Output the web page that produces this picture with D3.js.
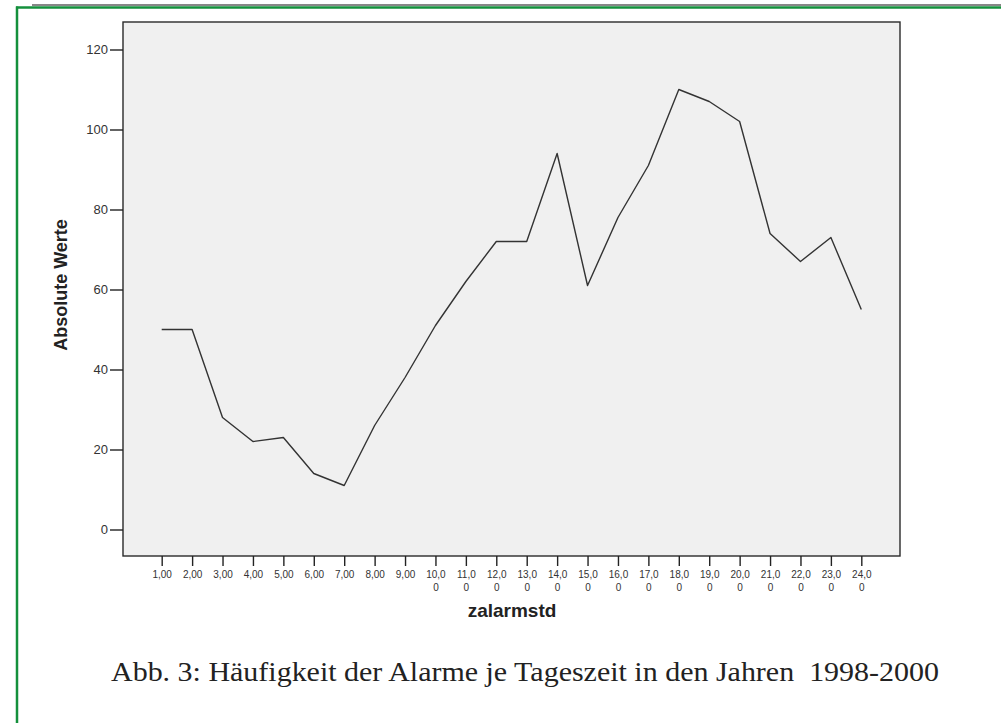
<!DOCTYPE html>
<html>
<head>
<meta charset="utf-8">
<script src="https://cdn.jsdelivr.net/npm/d3@7/dist/d3.min.js"></script>
<style>
html,body{margin:0;padding:0;background:#fff;}
svg{display:block;}
</style>
</head>
<body>
<svg id="chart" width="1001" height="723"></svg>
<script>
// ---- data ----
const hours = [1,2,3,4,5,6,7,8,9,10,11,12,13,14,15,16,17,18,19,20,21,22,23,24];
const counts = [50,50,28,22,23,14,11,26,38,51,62,72,72,94,61,78,91,110,107,102,74,67,73,55];
const xTickLabels = ["1,00","2,00","3,00","4,00","5,00","6,00","7,00","8,00","9,00","10,00","11,00","12,00",
  "13,00","14,00","15,00","16,00","17,00","18,00","19,00","20,00","21,00","22,00","23,00","24,00"];
const yTicks = [0,20,40,60,80,100,120];
const xTitle = "zalarmstd";
const yTitle = "Absolute Werte";
const caption = "Abb. 3: Häufigkeit der Alarme je Tageszeit in den Jahren  1998-2000";

// ---- layout ----
const svg = d3.select("#chart");
const plot = {left:123, right:900, top:22, bottom:556};

// frame
svg.append("line").attr("x1",32).attr("x2",1001).attr("y1",5).attr("y2",5)
  .attr("stroke","#111").attr("stroke-width",1.2);
svg.append("line").attr("x1",16).attr("x2",1001).attr("y1",7.5).attr("y2",7.5)
  .attr("stroke","#14903c").attr("stroke-width",2.5);
svg.append("line").attr("x1",17).attr("x2",17).attr("y1",6.5).attr("y2",723)
  .attr("stroke","#14903c").attr("stroke-width",2.5);

const x = d3.scalePoint().domain(hours).range([plot.left, plot.right]).padding(1.272);
const y = d3.scaleLinear().domain([-6.625, 126.875]).range([plot.bottom, plot.top]);

// plot background
svg.append("rect").attr("x",plot.left).attr("y",plot.top)
  .attr("width",plot.right-plot.left).attr("height",plot.bottom-plot.top)
  .attr("fill","#f0f0f0").attr("stroke","#2a2a2a").attr("stroke-width",1.4);

// y axis
const yAxis = d3.axisLeft(y).tickValues(yTicks).tickSize(13).tickPadding(2).tickFormat(d3.format("d"));
const gy = svg.append("g").attr("transform",`translate(${plot.left},0)`).call(yAxis);
gy.select(".domain").remove();
gy.selectAll(".tick line").attr("stroke","#222").attr("stroke-width",1.4);
gy.selectAll(".tick text").attr("font-family","Liberation Sans, Arial, sans-serif")
  .attr("font-size",13).attr("fill","#333");

// x axis
const xAxis = d3.axisBottom(x).tickSize(10).tickFormat((d,i)=>xTickLabels[i]);
const gx = svg.append("g").attr("transform",`translate(0,${plot.bottom})`).call(xAxis);
gx.select(".domain").remove();
gx.selectAll(".tick line").attr("stroke","#222").attr("stroke-width",1.4);
gx.selectAll(".tick text").each(function(d,i){
  const t = d3.select(this);
  const lab = xTickLabels[i];
  t.text(null).attr("y",0).attr("dy",null)
   .attr("font-family","Liberation Sans, Arial, sans-serif").attr("font-size",10).attr("fill","#333");
  if (lab.length > 4) {
    t.append("tspan").attr("x",0).attr("y",22).text(lab.slice(0,4));
    t.append("tspan").attr("x",0).attr("y",35).text(lab.slice(4));
  } else {
    t.append("tspan").attr("x",0).attr("y",22).text(lab);
  }
});

// line
const line = d3.line().x((d,i)=>x(hours[i])).y(d=>y(d));
svg.append("path").datum(counts).attr("d",line)
  .attr("fill","none").attr("stroke","#333").attr("stroke-width",1.4).attr("stroke-linejoin","round");

// titles
svg.append("text").attr("x",512).attr("y",617).attr("text-anchor","middle")
  .attr("font-family","Liberation Sans, Arial, sans-serif").attr("font-weight","bold")
  .attr("font-size",19).attr("fill","#222").text(xTitle);
svg.append("text").attr("transform","translate(67,285) rotate(-90)").attr("text-anchor","middle")
  .attr("font-family","Liberation Sans, Arial, sans-serif").attr("font-weight","bold")
  .attr("font-size",18).attr("fill","#222").text(yTitle);

// caption
svg.append("text").attr("x",111).attr("y",681)
  .attr("font-family","Liberation Serif, Times New Roman, serif")
  .attr("font-size",27).attr("fill","#222")
  .attr("textLength",828).attr("lengthAdjust","spacingAndGlyphs")
  .attr("xml:space","preserve")
  .text(caption);
</script>
</body>
</html>
